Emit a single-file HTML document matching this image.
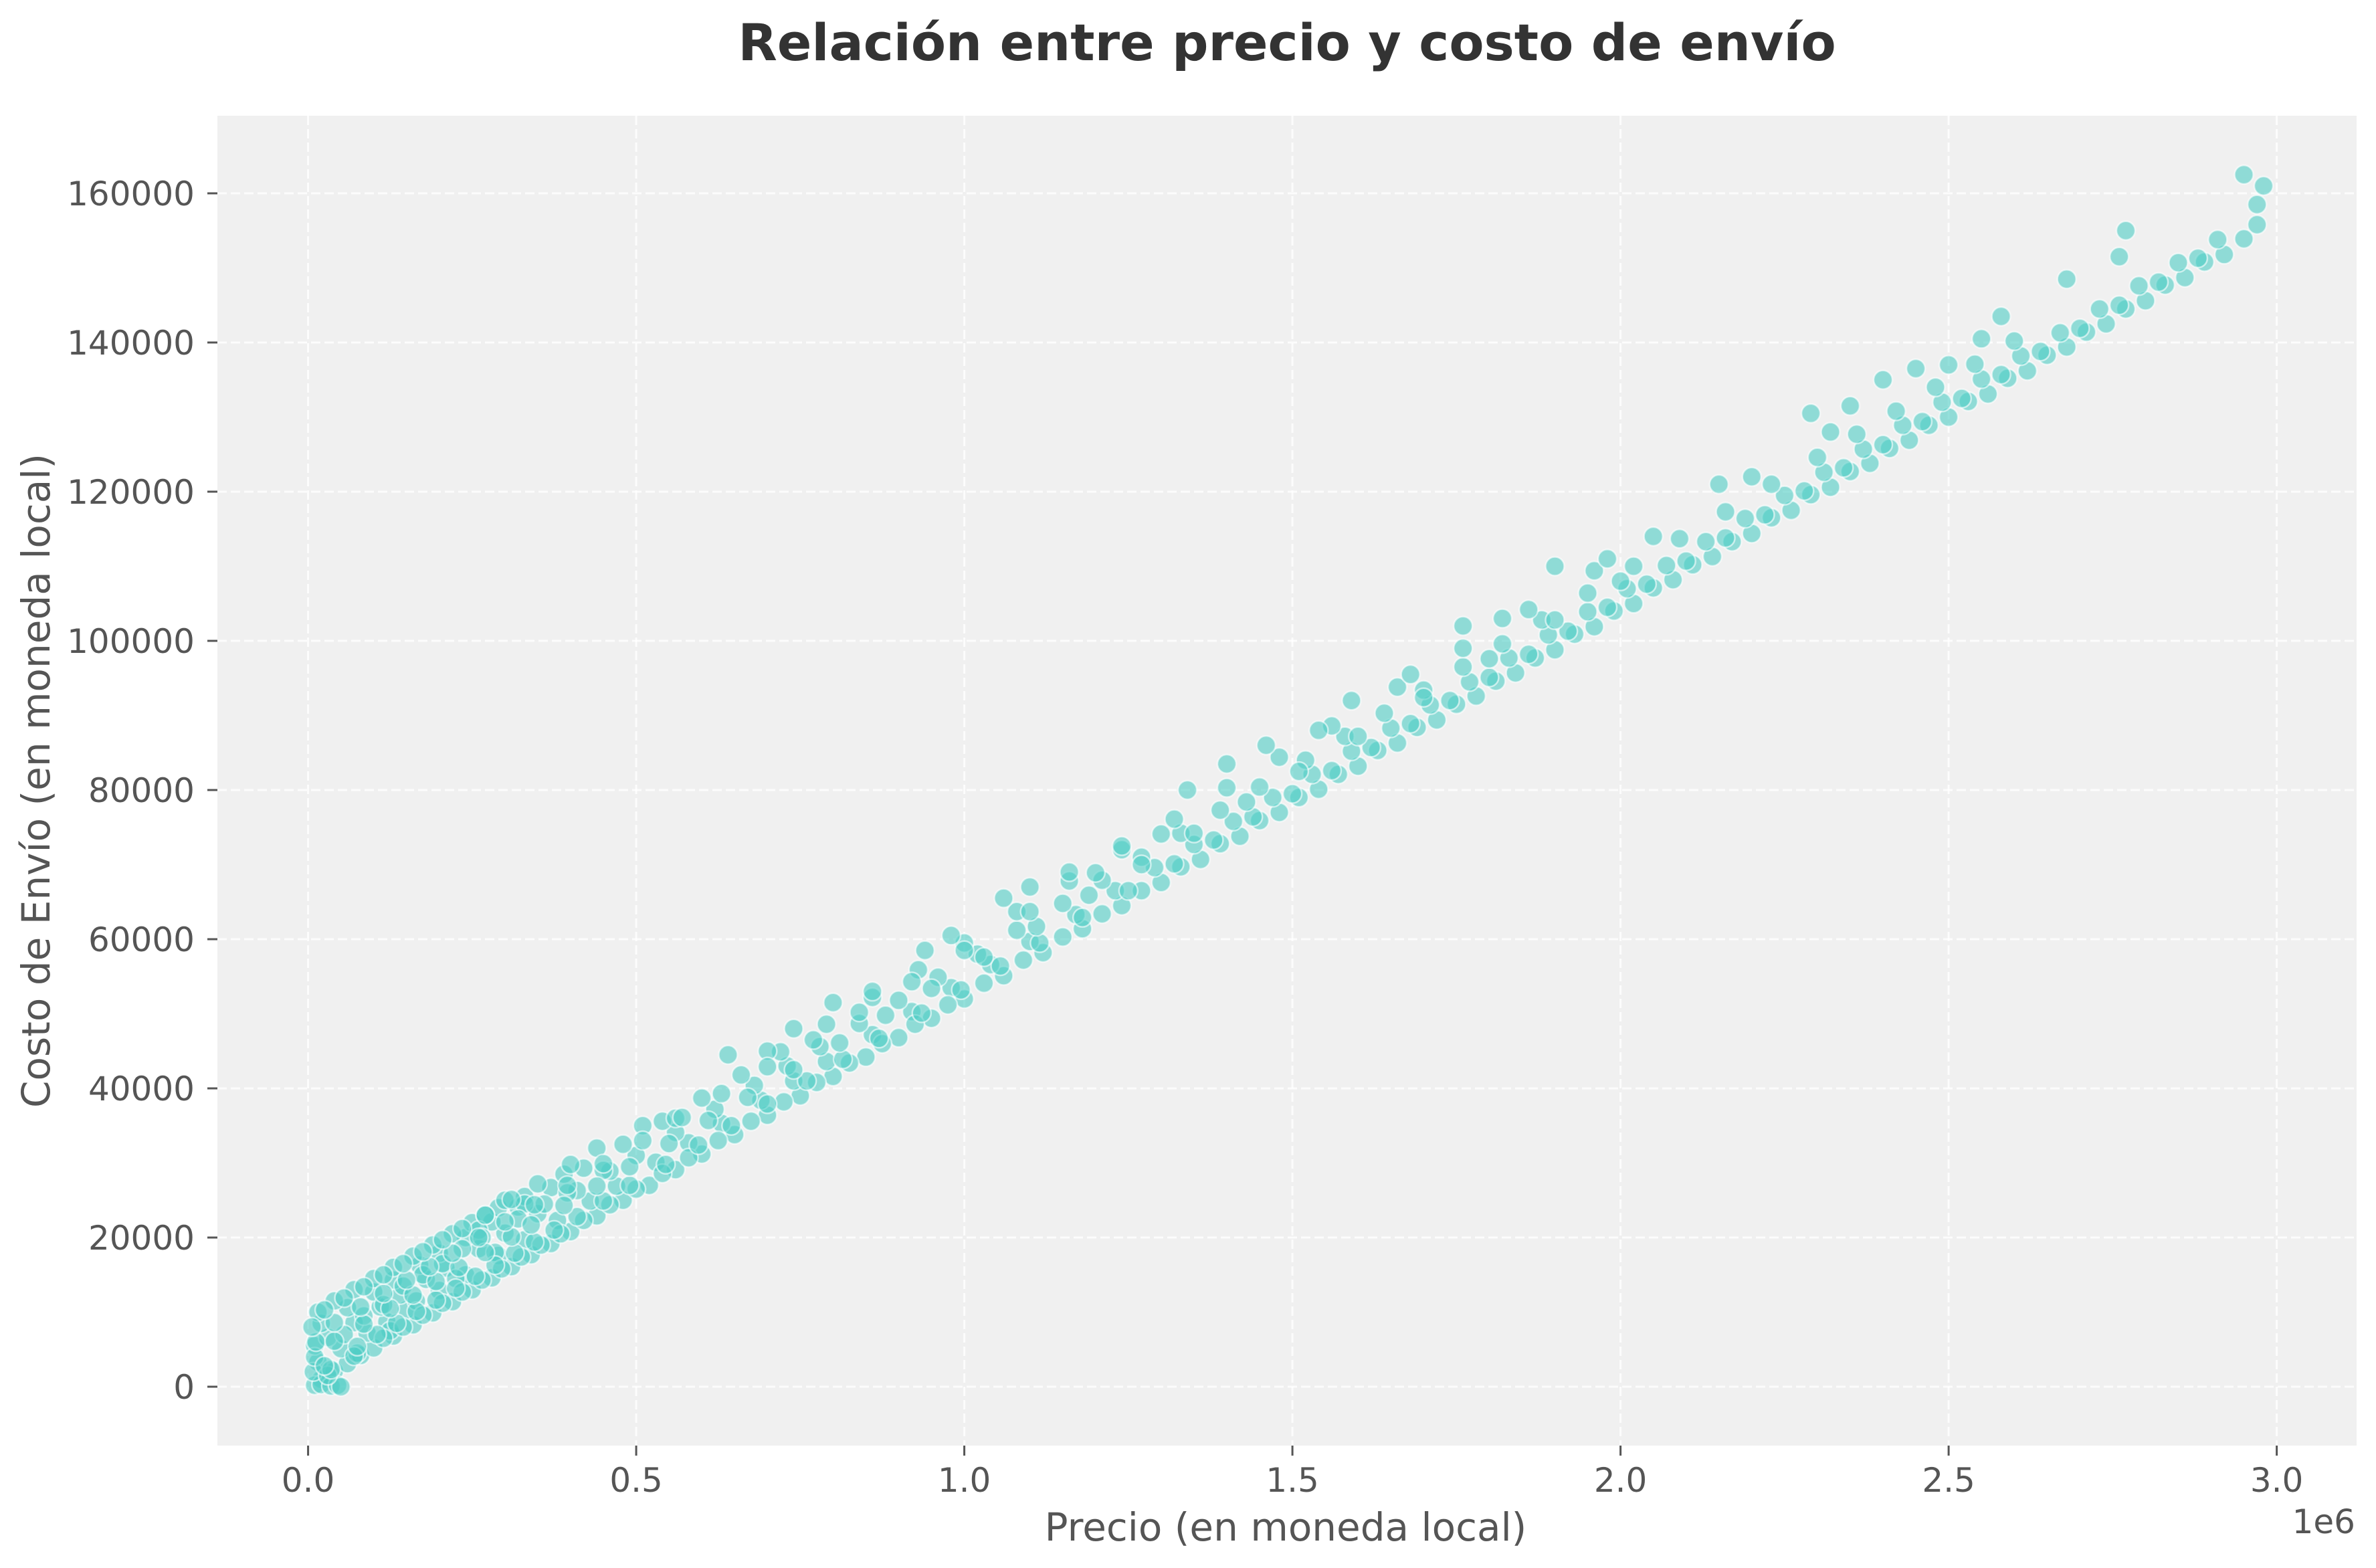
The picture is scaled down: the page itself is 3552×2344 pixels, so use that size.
<!DOCTYPE html>
<html><head><meta charset="utf-8"><style>
html,body{margin:0;padding:0;background:#fff;}
svg{display:block;}
text{font-family:"DejaVu Sans","Liberation Sans",sans-serif;}
</style></head><body>
<svg id="chart" width="3552" height="2344" viewBox="0 0 3552 2344" xmlns="http://www.w3.org/2000/svg">
<rect x="0" y="0" width="3552" height="2344" fill="#ffffff"/>
<text x="1924" y="90" text-anchor="middle" font-size="76" font-weight="bold" fill="#333333">Relación entre precio y costo de envío</text>
<rect x="325" y="173" width="3198" height="1988" fill="#f0f0f0"/>
<g id="grid"></g>
<g id="points"></g>
<g id="xaxis"></g>
<g id="yaxis"></g>
<text x="1922" y="2303" text-anchor="middle" font-size="58" fill="#555555">Precio (en moneda local)</text>
<text x="3521" y="2292" text-anchor="end" font-size="50" fill="#555555">1e6</text>
<text x="0" y="0" transform="translate(74,1167) rotate(-90)" text-anchor="middle" font-size="58" fill="#555555">Costo de Envío (en moneda local)</text>
</svg>
<script>
// data: price in thousands, cost in thousands
const prices = [
20,40,60,80,100,130,160,190,220,250,280,310,340,370,400,440,480,520,560,600,650,700,750,800,850,900,950,1000,1060,1120,1180,1240,1300,1360,1420,1480,1540,1600,1660,1720,1780,1840,1900,1960,2020,2080,2140,2200,2260,2320,2380,2440,2500,2560,2620,2680,2740,2800,2860,2920,2970,
15,50,90,120,150,200,240,290,330,380,430,470,530,580,630,690,740,790,860,920,980,1040,1100,1170,1230,1290,1350,1410,1470,1530,1590,1650,1710,1770,1830,1890,1950,2010,2070,2130,2190,2250,2310,2370,2430,2490,2550,2610,2670,2730,2790,2850,2910,
10,30,70,110,140,180,210,260,300,350,410,460,500,560,620,680,730,780,840,900,960,1020,1080,1150,1210,1270,1330,1390,1450,1520,1580,1640,1700,1760,1820,1880,1950,2020,2090,2160,2230,2300,2360,2420,2480,2540,2600,
20,60,100,130,170,200,240,280,320,370,420,480,540,600,660,720,790,860,930,1000,1080,1160,1240,1320,1400,1480,1560,1660,1760,1860,1960,
15,40,70,100,130,160,190,220,250,290,330,
10,20,35,45,50,8,10,12,6,
2950,2980,2970,2770,2680,2760,2580,2550,2400,2290,2350,2200,2150,1900,1760,1590,1460,1340,1240,1160,1060,980,940,800,740,640,510,440,390,300,330,270,260,560,700,860,1100,1400,1540,1680,1820,1980,2050,2450,2500,2320,
55,85,115,145,175,205,235,265,30,75,125,165,225,285,320,360,395,450,
35,70,115,145,175,205,235,265,295,325,355,385,420,460,500,540,580,625,675,725,775,825,875,925,975,1030,1090,1150,1210,1270,1330,1390,1450,1510,1570,1630,1690,1750,1810,1870,1930,1990,2050,2110,2170,2230,2290,2350,2410,2470,2530,2590,2650,2710,2770,2830,2890,2950,
25,75,105,135,165,195,225,255,285,315,345,375,410,450,490,545,595,645,700,760,815,870,935,995,1055,1115,1180,1250,1320,1380,1440,1500,1560,1620,1680,1740,1800,1860,1920,1980,2040,2100,2160,2220,2280,2340,2400,2460,2520,2580,2640,2700,2760,2820,2880,
40,85,125,160,195,230,270,310,340,390,440,490,550,610,670,740,810,880,950,1030,1110,1190,1270,1350,1430,1510,1600,1700,1800,1900,2000,
40,80,115,150,185,220,260,300,345,395,450,510,570,630,700,770,840,920,1000,1100,1200,1300,
25,55,85,115,145,175,205,235,270,310,350,400
];
const costs = [
1.0,2.1,3.1,4.2,5.2,6.8,8.3,9.9,11.4,13.0,14.6,16.1,17.7,19.2,20.8,22.9,25.0,27.0,29.1,31.2,33.8,36.4,39.0,41.6,44.2,46.8,49.4,52.0,55.1,58.2,61.4,64.5,67.6,70.7,73.8,77.0,80.1,83.2,86.3,89.4,92.6,95.7,98.8,101.9,105.0,108.2,111.3,114.4,117.5,120.6,123.8,126.9,130.0,133.1,136.2,139.4,142.5,145.6,148.7,151.8,155.8,
3.3,5.1,7.2,8.7,10.3,12.9,15.0,17.6,19.7,22.3,24.9,26.9,30.1,32.7,35.3,38.4,41.0,43.6,47.2,50.3,53.5,56.6,59.7,63.3,66.5,69.6,72.7,75.8,79.0,82.1,85.2,88.3,91.4,94.5,97.7,100.8,103.9,107.0,110.1,113.3,116.4,119.5,122.6,125.7,128.9,132.0,135.1,138.2,141.3,144.5,147.6,150.7,153.8,
5.5,6.6,8.6,10.7,12.3,14.4,15.9,18.5,20.6,23.2,26.3,28.9,31.0,34.1,37.2,40.4,43.0,45.6,48.7,51.8,54.9,58.0,61.2,64.8,67.9,71.0,74.2,77.3,80.4,84.0,87.2,90.3,93.4,96.5,99.6,102.8,106.4,110.0,113.7,117.3,121.0,124.6,127.7,130.8,134.0,137.1,140.2,
8.5,10.6,12.7,14.3,16.3,17.9,20.0,22.1,24.1,26.7,29.3,32.5,35.6,38.7,41.8,44.9,48.6,52.2,55.9,59.5,63.7,67.8,72.0,76.1,80.3,84.4,88.6,93.8,99.0,104.2,109.4,
10.0,11.5,13.0,14.5,16.0,17.5,19.0,20.5,22.0,24.0,25.5,
0.2,0.3,0.1,0.2,0.0,2.0,4.0,6.0,8.0,
162.5,161.0,158.5,155.0,148.5,151.5,143.5,140.5,135.0,130.5,131.5,122.0,121.0,110.0,102.0,92.0,86.0,80.0,72.5,69.0,65.5,60.5,58.5,51.5,48.0,44.5,35.0,32.0,28.5,25.0,24.5,23.0,21.0,36.0,45.0,53.0,67.0,83.5,88.0,95.5,103.0,111.0,114.0,136.5,137.0,128.0,
7.0,9.5,11.0,13.5,15.0,16.5,18.5,20.0,1.5,4.5,7.5,11.5,14.5,18.0,22.5,24.5,26.0,29.0,
2.3,4.1,6.5,8.0,9.6,11.2,12.7,14.3,15.8,17.4,19.0,20.5,22.3,24.4,26.5,28.6,30.7,33.0,35.6,38.2,40.8,43.4,46.0,48.6,51.2,54.1,57.2,60.3,63.4,66.5,69.7,72.8,75.9,79.0,82.1,85.3,88.4,91.5,94.6,97.7,100.9,104.0,107.1,110.2,113.3,116.5,119.6,122.7,125.8,128.9,132.1,135.2,138.3,141.4,144.5,147.7,150.8,153.9,
2.8,5.4,7.0,8.5,10.1,11.6,13.2,14.8,16.3,17.9,19.4,21.0,22.8,24.9,27.0,29.8,32.4,35.0,37.9,41.0,43.9,46.7,50.1,53.2,56.4,59.5,62.9,66.5,70.1,73.3,76.4,79.5,82.6,85.7,88.9,92.0,95.1,98.2,101.3,104.5,107.6,110.7,113.8,116.9,120.1,123.2,126.3,129.4,132.5,135.7,138.8,141.9,145.0,148.1,151.3,
6.1,8.4,10.5,12.3,14.1,16.0,18.0,20.1,21.7,24.3,26.9,29.5,32.6,35.7,38.8,42.5,46.1,49.8,53.4,57.6,61.7,65.9,70.0,74.2,78.4,82.5,87.2,92.4,97.6,102.8,108.0,
8.6,10.7,12.5,14.3,16.1,17.9,20.0,22.1,24.4,27.0,29.9,33.0,36.1,39.3,42.9,46.5,50.2,54.3,58.5,63.7,68.9,74.1,
10.3,11.9,13.4,15.0,16.5,18.1,19.7,21.2,23.0,25.1,27.2,29.8
];
const xTicks = [0, 0.5, 1.0, 1.5, 2.0, 2.5, 3.0];
const xTickLabels = ["0.0","0.5","1.0","1.5","2.0","2.5","3.0"];
const yTicks = [0,20000,40000,60000,80000,100000,120000,140000,160000];
const yTickLabels = ["0","20000","40000","60000","80000","100000","120000","140000","160000"];

const NS = "http://www.w3.org/2000/svg";
const L = 325, R = 3523, T = 173, B = 2161;
const xMin = -138200, xMax = 3121700, yMin = -7892, yMax = 170404;
function sx(v){ return L + (v - xMin) / (xMax - xMin) * (R - L); }
function sy(v){ return B - (v - yMin) / (yMax - yMin) * (B - T); }
function mk(tag, attrs){ const e = document.createElementNS(NS, tag); for (const k in attrs) e.setAttribute(k, attrs[k]); return e; }

const grid = document.getElementById('grid');
const xa = document.getElementById('xaxis');
const ya = document.getElementById('yaxis');
xTicks.forEach((t, i) => {
  const x = sx(t * 1e6);
  const g = mk('line', {x1:x, x2:x, y1:T, y2:B, stroke:'#ffffff', 'stroke-width':3, 'stroke-dasharray':'14 6', 'stroke-opacity':0.8});
  
  
  grid.appendChild(g);
  const tk = mk('line', {x1:x, x2:x, y1:B, y2:B+15, stroke:'#555555', 'stroke-width':3});
  
  
  xa.appendChild(tk);
  const tx = mk('text', {x:x, y:2230, 'text-anchor':'middle', 'font-size':50, fill:'#555555'});
  tx.textContent = xTickLabels[i];
  
  
  xa.appendChild(tx);
});
yTicks.forEach((t, i) => {
  const y = sy(t);
  const g = mk('line', {x1:L, x2:R, y1:y, y2:y, stroke:'#ffffff', 'stroke-width':3, 'stroke-dasharray':'14 6', 'stroke-opacity':0.8});
  
  
  grid.appendChild(g);
  const tk = mk('line', {x1:L-15, x2:L, y1:y, y2:y, stroke:'#555555', 'stroke-width':3});
  
  
  ya.appendChild(tk);
  const tx = mk('text', {x:291, y:y+18, 'text-anchor':'end', 'font-size':50, fill:'#555555'});
  tx.textContent = yTickLabels[i];
  
  
  ya.appendChild(tx);
});
const pts = document.getElementById('points');
for (let i = 0; i < prices.length; i++) {
  const c = mk('circle', {cx:sx(prices[i]*1000), cy:sy(costs[i]*1000), r:14, fill:'#4ECDC4', 'fill-opacity':0.6, stroke:'#ffffff', 'stroke-width':2.5, 'stroke-opacity':0.6});
  
  
  pts.appendChild(c);
}
</script>
</body></html>
